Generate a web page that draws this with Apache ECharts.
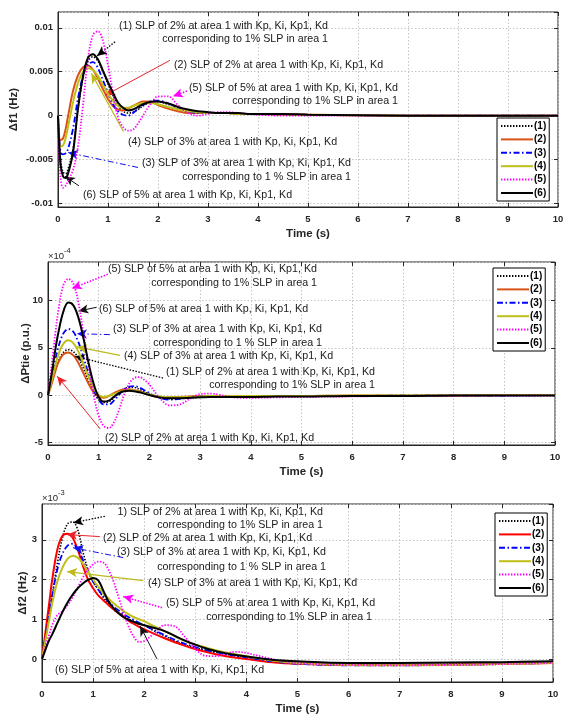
<!DOCTYPE html>
<html>
<head>
<meta charset="utf-8">
<script src="https://cdn.jsdelivr.net/npm/echarts@6/dist/echarts.min.js"></script>
<style>
  html, body { margin: 0; padding: 0; background: #fff; }
  #chart { width: 565px; height: 717px; }
</style>
</head>
<body>
<div id="chart"></div>
<script>
// Simulation time (s), shared by all three panels
const time = [0, 0.05, 0.1, 0.15, 0.2, 0.3, 0.4, 0.5, 0.6, 0.7, 0.8, 0.9, 1.0, 1.1, 1.2, 1.3, 1.4, 1.5, 1.6, 1.7,
              1.8, 1.9, 2.0, 2.2, 2.4, 2.6, 2.8, 3.0, 3.2, 3.4, 3.6, 3.8, 4.0, 4.5, 5, 6, 7, 8, 9, 10];

// Δf1 (Hz)
const df1_1 = [0, -0.0050, -0.0064, -0.0066, -0.0061, -0.0038, 0.0008, 0.0043, 0.0062, 0.0067, 0.0062, 0.0050, 0.0036, 0.0023, 0.0012, 0.0005, 0.0003, 0.0004, 0.0007, 0.0011,
               0.0014, 0.0016, 0.0016, 0.0013, 0.0009, 0.0006, 0.0004, 0.0004, 0.0003, 0.0003, 0.0003, 0.0002, 0.0002, 0.0002, 0.0001, 0.00005, 0, 0, 0, 0];
const df1_2 = [0, -0.0028, -0.0026, -0.0016, -0.0001, 0.0028, 0.0046, 0.0055, 0.0057, 0.0052, 0.0042, 0.0030, 0.0019, 0.0011, 0.0007, 0.0006, 0.0008, 0.0011, 0.0014, 0.0016,
               0.0016, 0.0015, 0.0012, 0.0008, 0.0005, 0.0003, 0.0003, 0.0003, 0.0003, 0.0003, 0.0002, 0.0002, 0.0002, 0.0001, 0.0001, 0.00005, 0, 0, 0, 0];
const df1_3 = [0, -0.0042, -0.0044, -0.0043, -0.0038, -0.0015, 0.0020, 0.0045, 0.0058, 0.0061, 0.0054, 0.0040, 0.0026, 0.0013, 0.0005, 0.0001, 0.0000, 0.0003, 0.0008, 0.0012,
               0.0015, 0.0017, 0.0017, 0.0014, 0.0009, 0.0005, 0.0003, 0.0003, 0.0003, 0.0003, 0.0002, 0.0002, 0.0002, 0.0001, 0.0001, 0.00005, 0, 0, 0, 0];
const df1_4 = [0, -0.0035, -0.0034, -0.0026, -0.0013, 0.0015, 0.0037, 0.0050, 0.0054, 0.0052, 0.0045, 0.0035, 0.0025, 0.0017, 0.0011, 0.0009, 0.0009, 0.0011, 0.0013, 0.0014,
               0.0014, 0.0014, 0.0013, 0.0010, 0.0007, 0.0005, 0.0004, 0.0003, 0.0003, 0.0003, 0.0002, 0.0002, 0.0002, 0.0001, 0.0001, 0.00005, 0, 0, 0, 0];
const df1_5 = [0, -0.0070, -0.0082, -0.0080, -0.0074, -0.0062, -0.0035, 0.0012, 0.0065, 0.0092, 0.0096, 0.0085, 0.0058, 0.0025, -0.0002, -0.0013, -0.0017, -0.0016, -0.0009, 0.0000,
               0.0009, 0.0017, 0.0022, 0.0022, 0.0012, 0.0003, 0.0000, 0.0002, 0.0004, 0.0004, 0.0003, 0.0002, 0.0001, 0.0000, 0, 0, 0, 0, 0, 0];
const df1_6 = [0, -0.0055, -0.0069, -0.0071, -0.0066, -0.0042, 0.0008, 0.0045, 0.0066, 0.0070, 0.0064, 0.0051, 0.0038, 0.0026, 0.0015, 0.0009, 0.0006, 0.0007, 0.0010, 0.0013,
               0.0015, 0.0016, 0.0016, 0.0014, 0.0010, 0.0007, 0.0005, 0.0004, 0.0003, 0.0003, 0.0003, 0.0002, 0.0002, 0.0002, 0.0001, 0.00005, 0, 0, 0, 0];

// ΔPtie (×10^-4 p.u.)
const dptie_1 = [0, 0.9, 1.8, 2.7, 3.5, 4.5, 4.8, 4.6, 3.9, 2.8, 1.5, 0.3, -0.5, -0.8, -0.7, -0.3, 0.2, 0.6, 0.8, 0.8,
                 0.6, 0.35, 0.1, -0.3, -0.4, -0.35, -0.3, -0.25, -0.2, -0.2, -0.2, -0.2, -0.2, -0.15, -0.15, -0.1, -0.1, -0.05, -0.05, -0.05];
const dptie_2 = [0, 0.8, 1.7, 2.6, 3.4, 4.3, 4.5, 4.2, 3.4, 2.3, 1.2, 0.3, -0.2, -0.3, -0.1, 0.2, 0.45, 0.6, 0.6, 0.5,
                 0.4, 0.2, 0.0, -0.2, -0.25, -0.2, -0.15, -0.1, -0.1, -0.1, -0.1, -0.1, -0.1, -0.1, -0.1, -0.05, -0.05, -0.05, 0, 0];
const dptie_3 = [0, 1.2, 2.5, 3.8, 5.0, 6.5, 7.0, 6.7, 5.6, 4.0, 2.2, 0.6, -0.5, -1.0, -1.0, -0.6, 0.0, 0.6, 0.9, 0.95,
                 0.8, 0.5, 0.2, -0.3, -0.5, -0.4, -0.25, -0.15, -0.1, -0.1, -0.15, -0.15, -0.15, -0.1, -0.1, -0.1, -0.05, -0.05, -0.05, 0];
const dptie_4 = [0, 1.0, 2.1, 3.2, 4.2, 5.4, 5.8, 5.5, 4.6, 3.3, 1.9, 0.7, 0.0, -0.2, -0.1, 0.1, 0.3, 0.45, 0.5, 0.45,
                 0.35, 0.2, 0.05, -0.15, -0.25, -0.25, -0.2, -0.15, -0.1, -0.1, -0.1, -0.1, -0.1, -0.1, -0.1, -0.05, -0.05, -0.05, 0, 0];
const dptie_5 = [0, 2.2, 4.5, 6.8, 8.8, 11.6, 12.3, 11.8, 9.8, 6.5, 3.0, 0.0, -2.2, -3.3, -3.5, -2.9, -1.6, 0.0, 1.2, 1.8,
                 1.9, 1.6, 1.1, -0.3, -1.1, -1.0, -0.4, 0.1, 0.15, 0.0, -0.2, -0.3, -0.3, -0.25, -0.2, -0.15, -0.1, -0.1, -0.05, -0.05];
const dptie_6 = [0, 1.5, 3.2, 5.0, 6.5, 8.8, 9.8, 9.5, 8.2, 6.0, 3.4, 1.2, -0.2, -0.7, -0.6, -0.2, 0.2, 0.4, 0.45, 0.4,
                 0.3, 0.15, 0.0, -0.25, -0.35, -0.35, -0.3, -0.25, -0.2, -0.2, -0.2, -0.2, -0.2, -0.15, -0.15, -0.1, -0.1, -0.05, -0.05, -0.05];

// Δf2 (×10^-3 Hz)
const df2_1 = [0, 0.35, 0.75, 1.2, 1.6, 2.4, 3.05, 3.4, 3.45, 3.25, 2.7, 2.25, 1.95, 1.75, 1.55, 1.4, 1.25, 1.15, 1.08, 1.0,
               0.95, 0.9, 0.85, 0.7, 0.58, 0.45, 0.35, 0.28, 0.22, 0.17, 0.12, 0.08, 0.05, -0.05, -0.1, -0.14, -0.14, -0.13, -0.1, -0.08];
const df2_2 = [0, 0.5, 1.0, 1.5, 2.0, 2.75, 3.1, 3.15, 3.05, 2.75, 2.35, 2.0, 1.78, 1.6, 1.48, 1.36, 1.25, 1.15, 1.05, 0.96,
               0.88, 0.81, 0.75, 0.63, 0.52, 0.42, 0.33, 0.25, 0.18, 0.12, 0.07, 0.03, 0.0, -0.08, -0.12, -0.15, -0.15, -0.14, -0.12, -0.1];
const df2_3 = [0, 0.4, 0.8, 1.2, 1.6, 2.25, 2.65, 2.85, 2.9, 2.75, 2.5, 2.2, 1.95, 1.75, 1.58, 1.44, 1.32, 1.22, 1.12, 1.05,
               0.98, 0.91, 0.85, 0.72, 0.6, 0.48, 0.38, 0.3, 0.23, 0.17, 0.12, 0.08, 0.04, -0.06, -0.12, -0.16, -0.16, -0.15, -0.13, -0.1];
const df2_4 = [0, 0.35, 0.7, 1.05, 1.4, 1.95, 2.3, 2.52, 2.6, 2.55, 2.4, 2.2, 2.0, 1.82, 1.66, 1.52, 1.4, 1.3, 1.2, 1.12,
               1.05, 1.0, 0.95, 0.82, 0.7, 0.57, 0.45, 0.36, 0.29, 0.22, 0.16, 0.11, 0.07, -0.04, -0.1, -0.15, -0.16, -0.15, -0.13, -0.1];
const df2_5 = [0, 0.25, 0.45, 0.65, 0.85, 1.1, 1.2, 1.35, 1.55, 1.8, 2.05, 2.25, 2.38, 2.45, 2.43, 2.25, 1.95, 1.55, 1.15, 0.8,
               0.55, 0.43, 0.45, 0.65, 0.85, 0.82, 0.55, 0.25, 0.08, 0.07, 0.14, 0.18, 0.15, 0.0, -0.1, -0.15, -0.16, -0.15, -0.13, -0.1];
const df2_6 = [0, 0.17, 0.35, 0.5, 0.62, 0.9, 1.18, 1.42, 1.62, 1.78, 1.9, 1.99, 2.04, 1.98, 1.72, 1.45, 1.28, 1.15, 1.05, 0.98,
               0.93, 0.88, 0.85, 0.78, 0.7, 0.58, 0.46, 0.36, 0.27, 0.2, 0.14, 0.1, 0.06, -0.02, -0.06, -0.1, -0.1, -0.09, -0.08, -0.06];

// Legend entries and tick labels
const caseLabels = ['(1)', '(2)', '(3)', '(4)', '(5)', '(6)'];
const timeTicks = [0, 1, 2, 3, 4, 5, 6, 7, 8, 9, 10];

// Arrow endpoints in data units: [fromT, fromV, toT, toV] per case
const arrows1 = [[1.14, 0.0084, 0.78, 0.0068], [2.24, 0.0063, 0.94, 0.0023], [1.6, -0.0059, 0.2, -0.0042],
                 [1.31, -0.0018, 0.67, 0.0048], [2.58, 0.0028, 2.3, 0.0022], [0.42, -0.0080, 0.14, -0.0069]];
const arrows2 = [[2.27, 1.8, 0.53, 4.1], [1.03, -3.6, 0.18, 2.0], [1.22, 6.4, 0.57, 6.5],
                 [1.42, 4.2, 0.57, 5.1], [1.18, 12.8, 0.47, 11.3], [0.96, 9.3, 0.6, 8.9]];
const arrows3 = [[1.23, 3.59, 0.61, 3.43], [1.13, 3.08, 0.49, 3.13], [1.59, 2.55, 0.61, 2.8],
                 [1.98, 1.97, 0.49, 2.2], [2.35, 1.29, 1.59, 1.57], [2.25, 0.0, 1.92, 0.83]];

const FONT = '"Liberation Sans", Arial, Helvetica, sans-serif';
const AXIS_COLOR = '#262626';

const dashDot = [6, 2.5, 1.5, 2.5];
const caseStyles = [
  { color: '#000000', width: 1.6, type: [1.4, 1.6] },
  { color: '#D95319', width: 2.0, type: 'solid' },
  { color: '#0000FF', width: 1.8, type: dashDot },
  { color: '#BFBF1A', width: 2.0, type: 'solid' },
  { color: '#FF00FF', width: 1.8, type: [1.4, 1.6] },
  { color: '#000000', width: 2.0, type: 'solid' }
];
const arrowStyles = [
  { color: '#000000', width: 1.3, type: [1.5, 1.5] },
  { color: '#E8242A', width: 1.0, type: 'solid' },
  { color: '#1010F0', width: 1.0, type: [6, 2.5, 1.5, 2.5] },
  { color: '#BDBB1C', width: 1.3, type: 'solid' },
  { color: '#FF00FF', width: 1.6, type: [1.5, 1.5] },
  { color: '#111111', width: 1.0, type: 'solid' }
];

const panels = [
  { key: 'df1', data: [df1_1, df1_2, df1_3, df1_4, df1_5, df1_6], arrows: arrows1,
    grid: { left: 58, top: 12, width: 500, height: 195 }, yMin: -0.0104, yMax: 0.0118,
    yName: 'Δf1 (Hz)', yNameGap: 38, legend: { left: 497, top: 118 } },
  { key: 'ptie', data: [dptie_1, dptie_2, dptie_3, dptie_4, dptie_5, dptie_6], arrows: arrows2,
    grid: { left: 48, top: 262, width: 507, height: 183 }, yMin: -5.3, yMax: 14.1,
    yName: 'ΔPtie (p.u.)', yNameGap: 16, legend: { left: 493, top: 268 } },
  { key: 'df2', data: [df2_1, df2_2, df2_3, df2_4, df2_5, df2_6], arrows: arrows3,
    grid: { left: 42, top: 504, width: 511, height: 178 }, yMin: -0.58, yMax: 3.9,
    yName: 'Δf2 (Hz)', yNameGap: 13, legend: { left: 495, top: 513 }, redCase2: true }
];

// Annotation text lines: [text, x, y, align]
const annotationText = [
  ['(1) SLP of 2% at area 1 with Kp, Ki, Kp1, Kd', 328, 26, 'right'],
  ['corresponding to 1% SLP in area 1', 328, 39, 'right'],
  ['(2) SLP of 2% at area 1 with Kp, Ki, Kp1, Kd', 174, 65, 'left'],
  ['(5) SLP of 5% at area 1 with Kp, Ki, Kp1, Kd', 398, 88, 'right'],
  ['corresponding to 1% SLP in area 1', 398, 101, 'right'],
  ['(4) SLP of 3% at area 1 with Kp, Ki, Kp1, Kd', 128, 142, 'left'],
  ['(3) SLP of 3% at area 1 with Kp, Ki, Kp1, Kd', 351, 163, 'right'],
  ['corresponding to 1 % SLP in area 1', 351, 177, 'right'],
  ['(6) SLP of 5% at area 1 with Kp, Ki, Kp1, Kd', 83, 195, 'left'],

  ['(5) SLP of 5% at area 1 with Kp, Ki, Kp1, Kd', 317, 269, 'right'],
  ['corresponding to 1% SLP in area 1', 317, 283, 'right'],
  ['(6) SLP of 5% at area 1 with Kp, Ki, Kp1, Kd', 99, 309, 'left'],
  ['(3) SLP of 3% at area 1 with Kp, Ki, Kp1, Kd', 322, 329, 'right'],
  ['corresponding to 1 % SLP in area 1', 322, 343, 'right'],
  ['(4) SLP of 3% at area 1 with Kp, Ki, Kp1, Kd', 124, 356, 'left'],
  ['(1) SLP of 2% at area 1 with Kp, Ki, Kp1, Kd', 375, 372, 'right'],
  ['corresponding to 1% SLP in area 1', 375, 385, 'right'],
  ['(2) SLP of 2% at area 1 with Kp, Ki, Kp1, Kd', 105, 438, 'left'],

  ['1) SLP of 2% at area 1 with Kp, Ki, Kp1, Kd', 323, 512, 'right'],
  ['corresponding to 1% SLP in area 1', 323, 525, 'right'],
  ['(2) SLP of 2% at area 1 with Kp, Ki, Kp1, Kd', 103, 538, 'left'],
  ['(3) SLP of 3% at area 1 with Kp, Ki, Kp1, Kd', 326, 552, 'right'],
  ['corresponding to 1 % SLP in area 1', 326, 567, 'right'],
  ['(4) SLP of 3% at area 1 with Kp, Ki, Kp1, Kd', 148, 583, 'left'],
  ['(5) SLP of 5% at area 1 with Kp, Ki, Kp1, Kd', 166, 603, 'left'],
  ['corresponding to 1% SLP in area 1', 372, 617, 'right'],
  ['(6) SLP of 5% at area 1 with Kp, Ki, Kp1, Kd', 55, 670, 'left']
];

const grids = [], xAxes = [], yAxes = [], series = [], legends = [];

panels.forEach((p, pi) => {
  grids.push(Object.assign({ show: true, borderColor: AXIS_COLOR, borderWidth: 1, backgroundColor: '#fff',
                             containLabel: false, outerBoundsMode: 'none' }, p.grid));

  const tickStyle = () => ({ show: true, inside: true, length: 4, lineStyle: { color: AXIS_COLOR, width: 1 } });
  const gridLine = { show: true, lineStyle: { color: '#c4c4c4', width: 1, type: [1.5, 2] } };
  const labelStyle = { fontFamily: FONT, fontSize: 9.5, fontWeight: 'bold', color: AXIS_COLOR };
  const nameStyle = { fontFamily: FONT, fontSize: 11.5, fontWeight: 'bold', color: AXIS_COLOR };
  const lineStyle = { show: true, onZero: false, lineStyle: { color: AXIS_COLOR } };

  xAxes.push({
    type: 'value', gridIndex: pi, position: 'bottom', min: timeTicks[0], max: timeTicks[timeTicks.length - 1], interval: 1,
    name: 'Time (s)', nameLocation: 'middle', nameGap: 21, nameMoveOverlap: false,
    nameTextStyle: nameStyle,
    axisLine: lineStyle,
    axisTick: tickStyle(), splitLine: gridLine,
    axisLabel: Object.assign({ margin: 7 }, labelStyle)
  });
  xAxes.push({
    type: 'value', gridIndex: pi, position: 'top', min: timeTicks[0], max: timeTicks[timeTicks.length - 1], interval: 1,
    axisLine: { show: false, onZero: false }, axisTick: tickStyle(), splitLine: { show: false }, axisLabel: { show: false }
  });
  yAxes.push({
    type: 'value', gridIndex: pi, position: 'left', min: p.yMin, max: p.yMax, splitNumber: 4,
    name: p.yName, nameLocation: 'middle', nameGap: p.yNameGap, nameMoveOverlap: false,
    nameTextStyle: nameStyle,
    axisLine: lineStyle,
    axisTick: tickStyle(), splitLine: gridLine,
    axisLabel: Object.assign({ margin: 5, showMinLabel: false, showMaxLabel: false }, labelStyle)
  });
  yAxes.push({
    type: 'value', gridIndex: pi, position: 'right', min: p.yMin, max: p.yMax, splitNumber: 4,
    axisLine: { show: false, onZero: false }, axisTick: tickStyle(), splitLine: { show: false }, axisLabel: { show: false }
  });

  const names = [];
  p.data.forEach((vals, k) => {
    const st = Object.assign({}, caseStyles[k]);
    if (p.redCase2 && k === 1) st.color = '#FF0000';
    const name = p.key + ' ' + caseLabels[k];
    names.push(name);
    series.push({
      type: 'line', name: name, xAxisIndex: pi * 2, yAxisIndex: pi * 2,
      data: time.map((t, i) => [t, vals[i]]),
      symbol: 'none', smooth: 0.35, lineStyle: st, itemStyle: { color: st.color },
      silent: true, z: 2 + k
    });
  });

  // arrows pointing from each note to its curve
  series.push({
    type: 'line', name: p.key + ' notes', xAxisIndex: pi * 2, yAxisIndex: pi * 2, data: [],
    silent: true, z: 10,
    markLine: {
      silent: true, animation: false, symbol: ['none', 'arrow'], symbolSize: [7, 10],
      label: { show: false },
      data: p.arrows.map((a, k) => {
        const s = arrowStyles[k];
        return [
          { coord: [a[0], a[1]], lineStyle: { color: s.color, width: s.width, type: s.type }, itemStyle: { color: s.color } },
          { coord: [a[2], a[3]] }
        ];
      })
    }
  });

  legends.push({
    data: names, orient: 'vertical', left: p.legend.left, top: p.legend.top,
    itemWidth: 32, itemHeight: 9, itemGap: 3.4,
    padding: [3, 3, 3, 3], borderColor: '#000', borderWidth: 1, backgroundColor: '#fff', borderRadius: 0,
    selectedMode: false, z: 20,
    itemStyle: { opacity: 0 },
    formatter: n => n.slice(-3),
    textStyle: { fontFamily: FONT, fontSize: 10, fontWeight: 'bold', color: '#000', padding: [0, 0, 0, -4] }
  });
});

const graphics = annotationText.map(([str, x, y, align]) => ({
  type: 'text', x: x, y: y, z: 15, silent: true,
  style: { text: str, fontFamily: FONT, fontSize: 10.7, fill: '#1a1a1a',
           align: align, textAlign: align, verticalAlign: 'middle', textVerticalAlign: 'middle' }
}));
// axis exponent markers
[['×10', 48, 256, 9.5], ['-4', 64, 251, 7.5], ['×10', 42, 498, 9.5], ['-3', 58, 493, 7.5]].forEach(([s, x, y, fs]) => {
  graphics.push({ type: 'text', x: x, y: y, silent: true,
    style: { text: s, fontFamily: FONT, fontSize: fs, fill: AXIS_COLOR, align: 'left', textAlign: 'left',
             verticalAlign: 'middle', textVerticalAlign: 'middle' } });
});

const chart = echarts.init(document.getElementById('chart'), null, { renderer: 'canvas' });
chart.setOption({
  animation: false,
  backgroundColor: '#fff',
  grid: grids, xAxis: xAxes, yAxis: yAxes, series: series, legend: legends,
  graphic: graphics
});
</script>
</body>
</html>
